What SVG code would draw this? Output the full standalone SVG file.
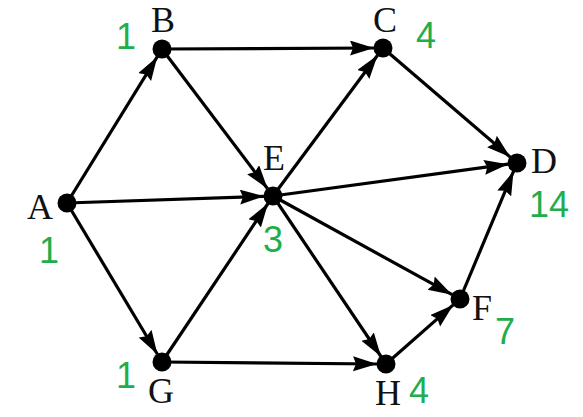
<svg xmlns="http://www.w3.org/2000/svg" width="583" height="417" viewBox="0 0 583 417">
<style>
.e{stroke:#000;stroke-width:3.2;fill:none;marker-end:url(#ah)}
.n{fill:#000}
.l{font-family:"Liberation Serif","Times New Roman",serif;font-size:36px;fill:#111;text-anchor:middle}
.w{font-family:"Liberation Sans",Arial,sans-serif;font-size:36px;fill:#1fae4b;text-anchor:middle}
</style>
<defs>
<marker id="ah" markerUnits="userSpaceOnUse" markerWidth="26" markerHeight="16" refX="24" refY="7.5" orient="auto" viewBox="0 0 26 16">
<path d="M0,0 L24,7.5 L0,15 L3,7.5 z" fill="#000"/>
</marker>
</defs>
<rect width="583" height="417" fill="#fff"/>
<g id="connectors">
<line class="e" x1="67" y1="203" x2="157.3" y2="56.7"/>
<line class="e" x1="67" y1="203" x2="264" y2="196.3"/>
<line class="e" x1="67" y1="203" x2="157.4" y2="354.3"/>
<line class="e" x1="162" y1="49" x2="374" y2="48"/>
<line class="e" x1="162" y1="49" x2="267.6" y2="188.8"/>
<line class="e" x1="383" y1="48" x2="510.2" y2="157.1"/>
<line class="e" x1="273" y1="196" x2="377.6" y2="55.2"/>
<line class="e" x1="273" y1="196" x2="508.1" y2="164.2"/>
<line class="e" x1="273" y1="196" x2="452.1" y2="294.7"/>
<line class="e" x1="273" y1="196" x2="381" y2="356.5"/>
<line class="e" x1="162" y1="362" x2="268" y2="203.5"/>
<line class="e" x1="162" y1="362" x2="377" y2="364"/>
<line class="e" x1="386" y1="364" x2="453.2" y2="304.9"/>
<line class="e" x1="460" y1="299" x2="513.5" y2="171.3"/>
</g>
<g id="A"><circle class="n" cx="67" cy="203" r="9.5"/><text class="l" x="40" y="219">A</text><text class="w" x="49" y="263">1</text></g>
<g id="B"><circle class="n" cx="162" cy="49" r="9.5"/><text class="l" x="163" y="32">B</text><text class="w" x="126" y="49">1</text></g>
<g id="C"><circle class="n" cx="383" cy="48" r="9.5"/><text class="l" x="385" y="32">C</text><text class="w" x="426" y="48">4</text></g>
<g id="D"><circle class="n" cx="517" cy="163" r="9.5"/><text class="l" x="544" y="173">D</text><text class="w" x="549" y="217">14</text></g>
<g id="E"><circle class="n" cx="273" cy="196" r="9.5"/><text class="l" x="274" y="170">E</text><text class="w" x="273" y="252">3</text></g>
<g id="F"><circle class="n" cx="460" cy="299" r="9.5"/><text class="l" x="482" y="320">F</text><text class="w" x="505" y="344">7</text></g>
<g id="G"><circle class="n" cx="162" cy="362" r="9.5"/><text class="l" x="161" y="403">G</text><text class="w" x="126" y="388">1</text></g>
<g id="H"><circle class="n" cx="386" cy="364" r="9.5"/><text class="l" x="388" y="405">H</text><text class="w" x="419" y="403">4</text></g>
</svg>
